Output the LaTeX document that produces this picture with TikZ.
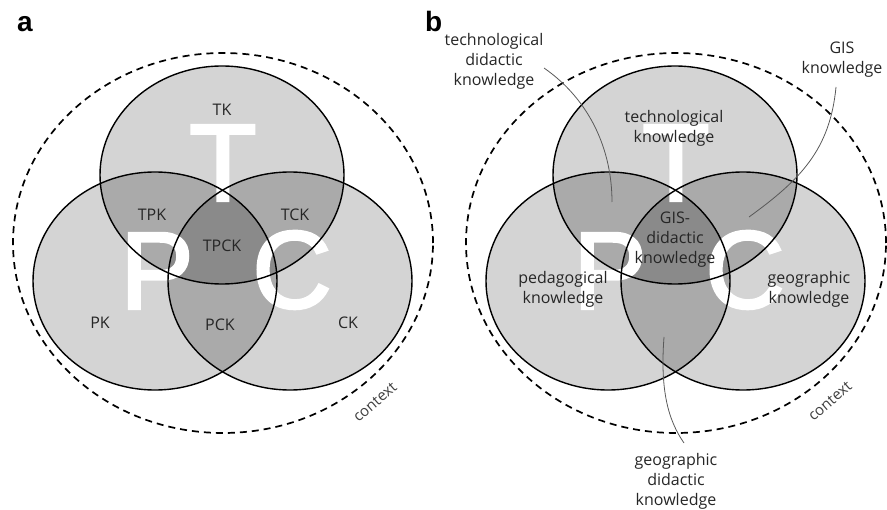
\documentclass[tikz,border=0pt]{standalone}
\usepackage{fontspec}
\setmainfont{Open Sans}
\newfontfamily\headfont{Liberation Sans}
\newfontfamily\bigfont[FakeBold=2.5]{Liberation Sans}
\begin{document}
\begin{tikzpicture}[x=1pt,y=-1pt,
  rim/.style={draw=black,line width=1.4pt},
  ctx/.style={draw=black,line width=1.7pt,dash pattern=on 7pt off 5pt},
  biglet/.style={text=white,inner sep=0pt,font=\bigfont\fontsize{110}{110}\selectfont},
  lbl/.style={text=black!85,inner sep=0pt,align=center,font=\fontsize{16}{20}\selectfont},
  panel/.style={text=black,inner sep=0pt,anchor=base west,font=\headfont\bfseries\fontsize{28}{28}\selectfont},
  leader/.style={draw=black!65,line width=0.8pt},
  ctxlbl/.style={text=black!75,inner sep=0pt,rotate=41,font=\fontsize{15}{15}\selectfont}]
\useasboundingbox (0,0) rectangle (887,510);
\definecolor{lightg}{gray}{0.83}
\definecolor{midg}{gray}{0.665}
\definecolor{darkg}{gray}{0.54}
% the three knowledge domains
\def\eT{(222,175) ellipse [x radius=122pt, y radius=109pt]}
\def\eP{(155,281) ellipse [x radius=122pt, y radius=109pt]}
\def\eC{(290,281) ellipse [x radius=122pt, y radius=109pt]}
\def\venn{%
  \path[ctx] (223,243) ellipse [x radius=210pt, y radius=190pt];
  \fill[lightg] \eT; \fill[lightg] \eP; \fill[lightg] \eC;
  \begin{scope}\clip \eT; \fill[midg] \eP; \fill[midg] \eC;\end{scope}
  \begin{scope}\clip \eP; \fill[midg] \eC;\end{scope}
  \begin{scope}\clip \eT; \clip \eP; \fill[darkg] \eC;\end{scope}
}
\def\rims{\draw[rim] \eT; \draw[rim] \eP; \draw[rim] \eC;}

% ---------- panel a ----------
\begin{scope}
  \venn
  \node[biglet] (Ta) at (223,163) {T};
  \node[biglet] (Pa) at (157,271) {P};
  \node[biglet] (Ca) at (292,270) {C};
  \rims
  \node[lbl] (tk) at (222,110) {TK};
  \node[lbl] (tpk) at (152,215) {TPK};
  \node[lbl] (tck) at (295,215) {TCK};
  \node[lbl] (tpck) at (222,246) {TPCK};
  \node[lbl] (pk) at (100,323) {PK};
  \node[lbl] (ck) at (348,323) {CK};
  \node[lbl] (pck) at (220,325) {PCK};
  \node[ctxlbl] (ctxa) at (375,402) {context};
\end{scope}
\node[panel] (pa) at (17,32) {a};

% ---------- panel b ----------
\begin{scope}[shift={(453,0)}]
  \venn
  \node[biglet] (Tb) at (223,163) {T};
  \node[biglet] (Pb) at (157,271) {P};
  \node[biglet] (Cb) at (292,270) {C};
  \rims
  \node[ctxlbl] (ctxb) at (377,401) {context};
\end{scope}
\node[panel] (pb) at (425,32) {b};

\node[lbl] (techk) at (674,128) {technological\\knowledge};
\node[lbl] (gisd) at (675,240) {GIS-\\didactic\\knowledge};
\node[lbl] (pedk) at (563,289) {pedagogical\\knowledge};
\node[lbl] (geok) at (809,289) {geographic\\knowledge};
\node[lbl] (tdk) at (494,61) {technological\\didactic\\knowledge};
\node[lbl] (gisk) at (842,60) {GIS\\knowledge};
\node[lbl] (gdk) at (676,481) {geographic\\didactic\\knowledge};

% leader lines from the outer labels into their regions
\coordinate (tdkStart) at (544,68);
\coordinate (tdkEnd) at (612,202);
\coordinate (giskStart) at (836,87);
\coordinate (giskEnd) at (749,217);
\coordinate (gdkStart) at (684,443);
\coordinate (gdkEnd) at (664,337);
\draw[leader] (tdkStart) .. controls (590,100) and (612,150) .. (tdkEnd);
\draw[leader] (giskStart) .. controls (830,150) and (800,180) .. (giskEnd);
\draw[leader] (gdkEnd) .. controls (660,390) and (668,420) .. (gdkStart);
\end{tikzpicture}
\end{document}
